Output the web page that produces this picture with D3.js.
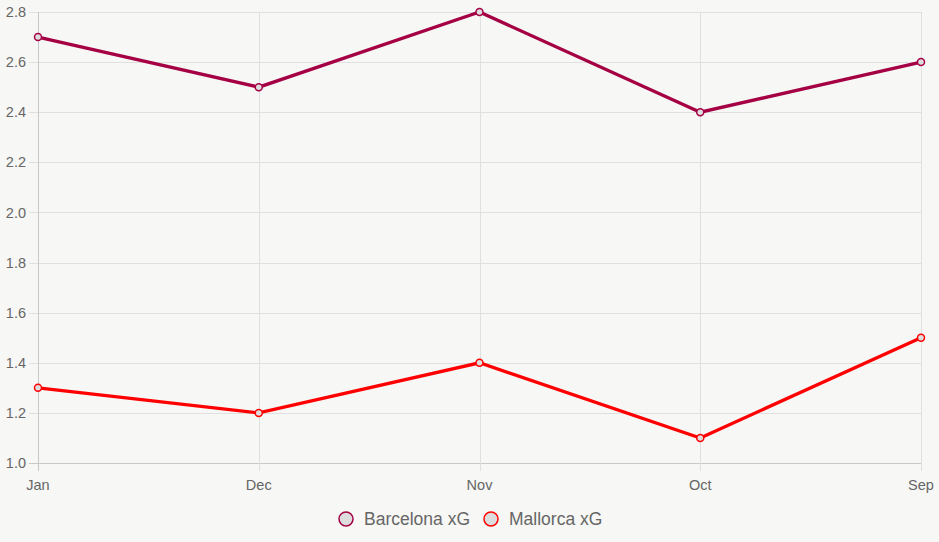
<!DOCTYPE html>
<html><head><meta charset="utf-8">
<script src="https://cdn.jsdelivr.net/npm/d3@7"></script>
<style>
html,body{margin:0;padding:0;background:#f7f7f5;}
svg{display:block;font-family:"Helvetica Neue",Helvetica,Arial,"Liberation Sans",sans-serif;}
</style></head>
<body><svg id="c" width="939" height="542"></svg>
<script>
const months = ["Jan","Dec","Nov","Oct","Sep"];
const barcelona = [2.7,2.5,2.8,2.4,2.6];
const mallorca = [1.3,1.2,1.4,1.1,1.5];
const yTicks = [1.0,1.2,1.4,1.6,1.8,2.0,2.2,2.4,2.6,2.8];
const seriesNames = ["Barcelona xG","Mallorca xG"];
const seriesColors = ["#a50044","#ff0000"];

(function(){
const svg = d3.select("#c");
const pL = 38, pR = 921, pT = 12, pB = 463;
const x = d3.scalePoint().domain(months).range([pL,pR]);
const y = d3.scaleLinear().domain([1.0,2.8]).range([pB,pT]);

const grid = svg.append("g");
grid.selectAll("line.h").data(yTicks).join("line")
  .attr("x1",pL-9).attr("x2",pR).attr("y1",d=>Math.round(y(d))+0.5).attr("y2",d=>Math.round(y(d))+0.5)
  .attr("stroke",d=>d===1.0?"#c8c8c8":"#e0e0e0").attr("stroke-width",1);
grid.selectAll("line.v").data(months).join("line")
  .attr("x1",d=>Math.round(x(d))+0.5).attr("x2",d=>Math.round(x(d))+0.5).attr("y1",pT).attr("y2",pB+8)
  .attr("stroke",(d,i)=>i===0?"#c8c8c8":"#e0e0e0").attr("stroke-width",1);

svg.append("g").selectAll("text").data(yTicks).join("text")
  .attr("x",pL-12).attr("y",d=>y(d)).attr("dy","0.35em").attr("text-anchor","end")
  .attr("fill","#666").attr("font-size",14.5).text(d=>d.toFixed(1));
svg.append("g").selectAll("text").data(months).join("text")
  .attr("x",d=>x(d)).attr("y",pB+27).attr("text-anchor","middle")
  .attr("fill","#666").attr("font-size",14.5).text(d=>d);

const line = d3.line().x((d,i)=>x(months[i])).y(d=>y(d));
[barcelona,mallorca].forEach((s,k)=>{
  svg.append("path").datum(s).attr("d",line).attr("fill","none")
    .attr("stroke",seriesColors[k]).attr("stroke-width",3.3);
  svg.append("g").selectAll("circle").data(s).join("circle")
    .attr("cx",(d,i)=>x(months[i])).attr("cy",d=>y(d)).attr("r",3.5)
    .attr("fill","#dddddd").attr("stroke",seriesColors[k]).attr("stroke-width",1.5);
});

const legX = [346,491];
const lg = svg.append("g");
seriesNames.forEach((n,k)=>{
  lg.append("circle").attr("cx",legX[k]).attr("cy",519).attr("r",7)
    .attr("fill","#dddddd").attr("stroke",seriesColors[k]).attr("stroke-width",1.5);
  lg.append("text").attr("x",legX[k]+18).attr("y",519).attr("dy","0.35em")
    .attr("fill","#666").attr("font-size",17.5).text(n);
});
})();
</script></body></html>
